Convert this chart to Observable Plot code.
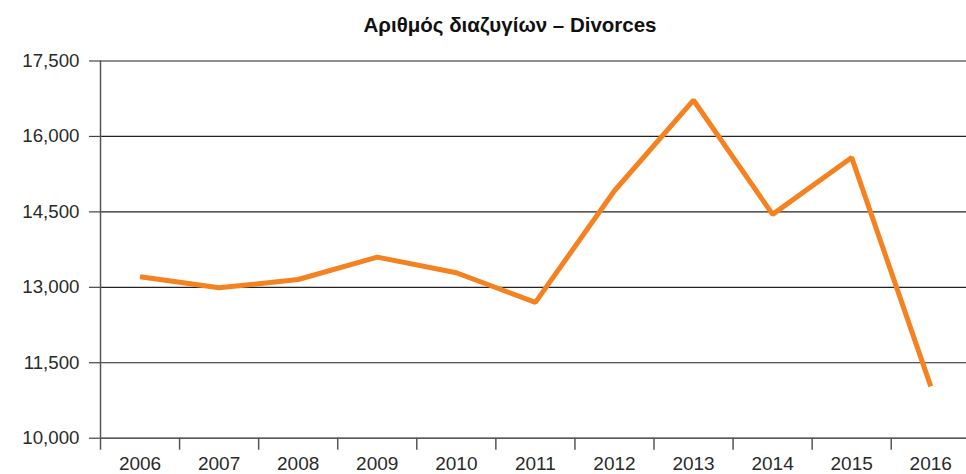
<!DOCTYPE html>
<html>
<head>
<meta charset="utf-8">
<script src="https://cdn.jsdelivr.net/npm/d3@7"></script>
<script src="https://cdn.jsdelivr.net/npm/@observablehq/plot@0.6"></script>
<style>
  html, body { margin: 0; padding: 0; background: #fff; }
  body { width: 966px; height: 474px; overflow: hidden; font-family: "Liberation Sans", Arial, Helvetica, sans-serif; }
  #title { height: 29px; padding-top: 15px; line-height: 20px; margin-left: 54px; text-align: center; font-weight: bold; font-size: 20.5px; color: #111; }
  #chart svg { display: block; overflow: hidden; }
</style>
</head>
<body>
<div id="title">Αριθμός διαζυγίων – Divorces</div>
<div id="chart"></div>
<script>
const years = [2006, 2007, 2008, 2009, 2010, 2011, 2012, 2013, 2014, 2015, 2016];
const divorces = [13210, 12990, 13155, 13600, 13290, 12700, 14920, 16720, 14450, 15580, 11030];
const yTicks = [10000, 11500, 13000, 14500, 16000, 17500];

const data = years.map((year, i) => ({year, value: divorces[i]}));
const boundaries = years.map(y => y - 0.5);

const chart = Plot.plot({
  width: 966,
  height: 430,
  marginLeft: 100,
  marginRight: 0,
  marginTop: 16.5,
  marginBottom: 36.3,
  style: {fontFamily: '"Liberation Sans", Arial, Helvetica, sans-serif', fontSize: "19px", color: "#2a2a2a", background: "#fff"},
  x: {domain: [2005.5, 2016.5], range: [100, 969.8]},
  y: {domain: [10000, 17500]},
  marks: [
    Plot.ruleY(yTicks, {stroke: "#222", strokeWidth: 1.2}),
    Plot.axisY({ticks: yTicks, tickSize: 11, tickPadding: 10, tickFormat: d3.format(","), label: null, stroke: "#444", strokeWidth: 1.2, fontSize: 18.7}),
    Plot.axisX({ticks: boundaries, tickSize: 12, tickFormat: () => "", label: null, stroke: "#555", strokeWidth: 1.5}),
    Plot.axisX({ticks: years, tickSize: 0, tickPadding: 18, tickFormat: d => String(d), label: null, fontSize: 19}),
    Plot.ruleX([2005.5], {y1: 10000, y2: 17500, stroke: "#555", strokeWidth: 1.5}),
    Plot.line(data, {x: "year", y: "value", stroke: "#f58220", strokeWidth: 5, strokeLinejoin: "miter", strokeLinecap: "butt"})
  ]
});
document.getElementById("chart").appendChild(chart);
</script>
</body>
</html>
